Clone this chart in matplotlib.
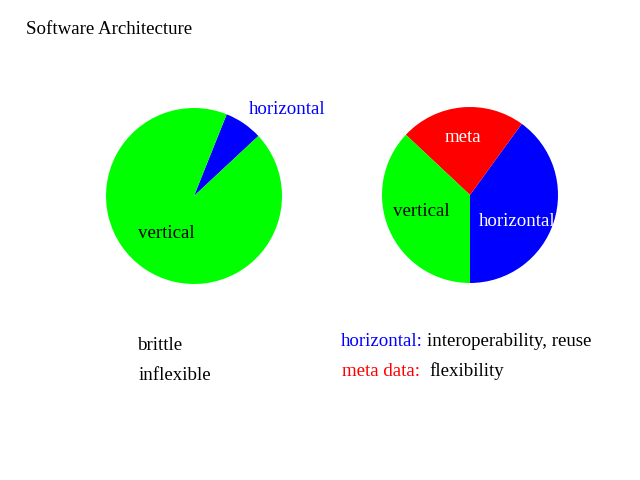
import matplotlib
matplotlib.use("Agg")
import matplotlib.pyplot as plt

plt.rcParams['font.family'] = ['Liberation Serif', 'DejaVu Serif']

title = "Software Architecture"

left_labels = ["horizontal", "vertical"]
left_values = [7, 93]
left_colors = ["#0000ff", "#00ff00"]

right_labels = ["horizontal", "meta", "vertical"]
right_values = [40, 23, 37]
right_colors = ["#0000ff", "#ff0000", "#00ff00"]

W, H = 640, 480
fig = plt.figure(figsize=(6.4, 4.8), dpi=100)
ax = fig.add_axes([0, 0, 1, 1])

def Y(y):
    return H - y

ax.pie(left_values, colors=left_colors, startangle=43, counterclock=True,
       center=(194, Y(196)), radius=88, frame=True,
       wedgeprops=dict(linewidth=0))
ax.pie(right_values, colors=right_colors, startangle=-90, counterclock=True,
       center=(470, Y(195)), radius=88, frame=True,
       wedgeprops=dict(linewidth=0))
ax.set_xlim(0, W)
ax.set_ylim(0, H)
ax.set_aspect('equal')
ax.axis('off')

fs = 13.6
def t(x, y, s, c='black'):
    ax.text(x, Y(y + 1), s, fontsize=fs, ha='left', va='center', color=c)

t(26, 29, title)

t(249, 108, left_labels[0], '#0000ff')
t(138, 232, left_labels[1])

t(445, 136, right_labels[1], 'white')
t(393, 211, right_labels[2])
t(479, 221, right_labels[0], 'white')

t(137, 344, "brittle")
t(139, 374, "inflexible")

t(341, 340, "horizontal:", '#0000ff')
t(427, 340, "interoperability, reuse")
t(342, 370, "meta data:", '#ff0000')
t(429, 370, "flexibility")

fig.savefig("out.png", dpi=100, facecolor='white')
